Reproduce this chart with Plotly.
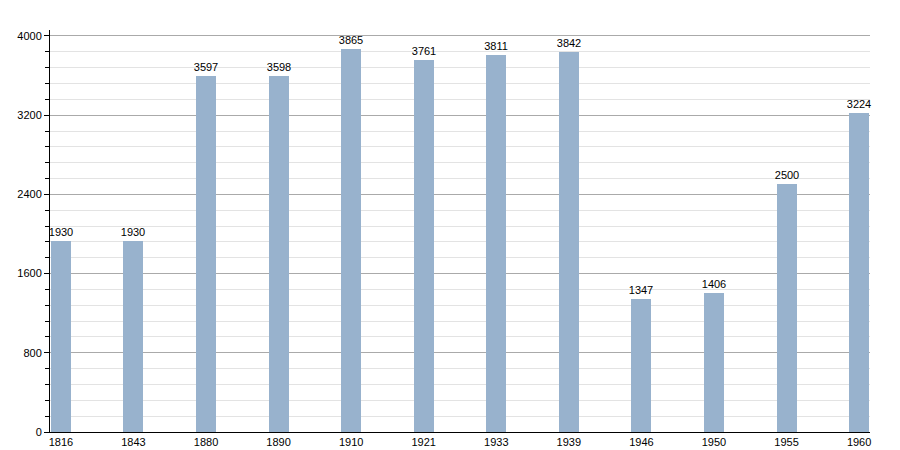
import plotly.graph_objects as go

years = ["1816", "1843", "1880", "1890", "1910", "1921", "1933", "1939", "1946", "1950", "1955", "1960"]
population = [1930, 1930, 3597, 3598, 3865, 3761, 3811, 3842, 1347, 1406, 2500, 3224]
y_ticks = [0, 800, 1600, 2400, 3200, 4000]

fig = go.Figure()
fig.add_trace(go.Bar(
    x=years, y=population,
    marker=dict(color="#98b2cd", line=dict(width=0)),
    width=0.275,
    text=[str(v) for v in population],
    textposition="outside",
    constraintext="none",
    textfont=dict(family="Liberation Sans, Arial, sans-serif", size=11, color="#000"),
    cliponaxis=False,
))

# page body adds an 8px offset, so the figure is sized/margined to compensate
fig.update_layout(
    width=892, height=442,
    margin=dict(l=42, r=30, t=22, b=18, autoexpand=False),
    paper_bgcolor="white", plot_bgcolor="white",
    showlegend=False,
    font=dict(family="Liberation Sans, Arial, sans-serif", size=11, color="#000"),
    bargap=0,
)
fig.update_xaxes(
    type="category",
    range=[-0.15, 11.15],
    automargin=False,
    showline=True, linecolor="#000", linewidth=1,
    ticks="", showgrid=False,
    tickfont=dict(size=11),
    ticklabelstandoff=0,
)
fig.update_yaxes(
    range=[0, 4060],
    automargin=False,
    tickvals=y_ticks,
    showline=True, linecolor="#000", linewidth=1,
    ticks="outside", ticklen=5, tickcolor="#000",
    showgrid=True, gridcolor="#aaaaaa", gridwidth=1,
    zeroline=False,
    tickfont=dict(size=11),
    minor=dict(dtick=160, tick0=0, showgrid=True, gridcolor="#e3e3e3",
               ticks="outside", ticklen=4, tickcolor="#000"),
)

fig.write_html("out.html")
